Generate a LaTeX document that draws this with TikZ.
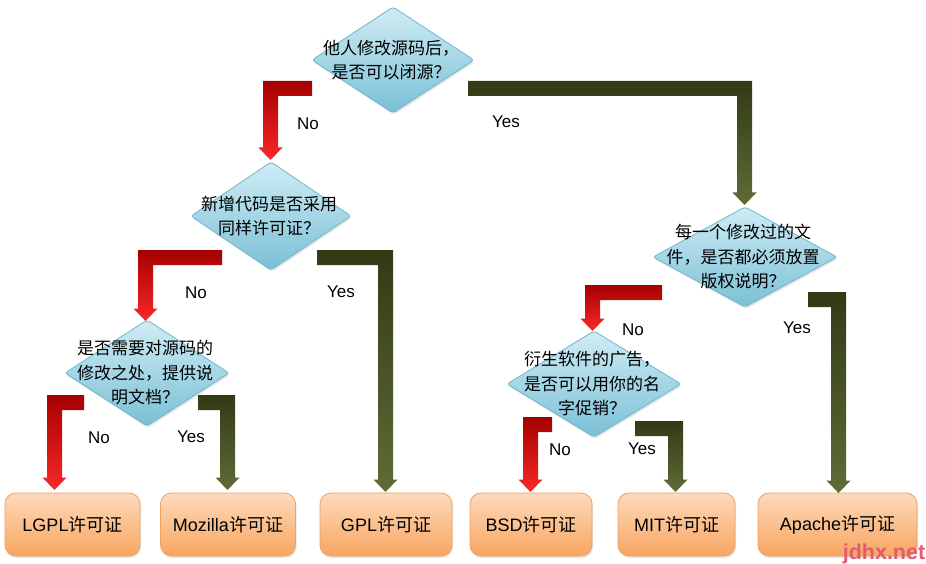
\documentclass[tikz,border=0pt]{standalone}
\usepackage{fontspec}
\setmainfont{Liberation Sans}
\newfontfamily\cjk{Noto Sans CJK SC}
\usetikzlibrary{shadows}
\definecolor{diaB}{RGB}{110,182,208}
\definecolor{diaT}{RGB}{208,236,244}
\definecolor{diaD}{RGB}{122,192,214}
\definecolor{boxB}{RGB}{240,160,95}
\definecolor{boxT}{RGB}{253,218,190}
\definecolor{boxD}{RGB}{248,165,95}
\definecolor{redT}{RGB}{165,0,0}
\definecolor{redD}{RGB}{250,40,40}
\definecolor{olT}{RGB}{50,58,22}
\definecolor{olD}{RGB}{95,108,55}
\definecolor{wm}{RGB}{225,92,112}
\newcommand\mydiam[6]{%
  \path[dia] (#2,#3-#5) -- (#2+#4,#3) -- (#2,#3+#5) -- (#2-#4,#3) -- cycle;
  \node[q] (#1) at (#2-2,#3) {#6};}
\newcommand\noarrow[4]{%
  \path[noarr] (#1,#2) -- (#3,#2) -- (#3,#4-12.5) -- (#3-4.5,#4-12.5) -- (#3+7.5,#4)
    -- (#3+19.5,#4-12.5) -- (#3+15,#4-12.5) -- (#3+15,#2+15) -- (#1,#2+15) -- cycle;}
\newcommand\yesarrow[4]{%
  \path[yesarr] (#1,#2) -- (#3,#2) -- (#3,#4-12.5) -- (#3+4.5,#4-12.5) -- (#3-7.5,#4)
    -- (#3-19.5,#4-12.5) -- (#3-15,#4-12.5) -- (#3-15,#2+15) -- (#1,#2+15) -- cycle;}
\begin{document}
\begin{tikzpicture}[x=1pt,y=-1pt,
  dia/.style={draw=diaB, line width=0.8pt, rounded corners=3pt, top color=diaT, bottom color=diaD,
    drop shadow={opacity=0.2, shadow xshift=1pt, shadow yshift=-2pt}},
  q/.style={font=\cjk\fontsize{17}{24.5}\selectfont, align=center, inner sep=0pt},
  lic/.style={draw=boxB, line width=0.8pt, rounded corners=11pt, top color=boxT, bottom color=boxD,
    minimum height=63pt, inner sep=0pt, font=\fontsize{18}{20}\selectfont,
    drop shadow={opacity=0.2, shadow xshift=1pt, shadow yshift=-2pt}},
  lab/.style={font=\fontsize{17}{20}\selectfont, inner sep=0pt},
  noarr/.style={top color=redT, bottom color=redD},
  yesarr/.style={top color=olT, bottom color=olD}]
\useasboundingbox (0,0) rectangle (926,564);
% decisions
\mydiam{d1}{393}{60}{81}{53}{他人修改源码后，\\是否可以闭源？}
\mydiam{d2}{271}{216}{80}{54}{新增代码是否采用\\同样许可证？}
\mydiam{d3}{147}{373}{82}{53}{是否需要对源码的\\修改之处，提供说\\明文档？}
\mydiam{d4}{745}{257}{92}{50}{每一个修改过的文\\件，是否都必须放置\\版权说明？}
\mydiam{d5}{594}{384}{87}{53}{衍生软件的广告，\\是否可以用你的名\\字促销？}
% licences
\node[lic, minimum width=135pt] (lgpl) at (72.5,524.5) {LGPL{\cjk 许可证}};
\node[lic, minimum width=135pt] (moz) at (228,524.5) {Mozilla{\cjk 许可证}};
\node[lic, minimum width=132pt] (gpl) at (386,524.5) {GPL{\cjk 许可证}};
\node[lic, minimum width=122pt] (bsd) at (531,524.5) {BSD{\cjk 许可证}};
\node[lic, minimum width=117pt] (mit) at (676.5,524.5) {MIT{\cjk 许可证}};
\node[lic, minimum width=159pt] (apache) at (837.5,524.5) {Apache{\cjk 许可证}};
% arrows
\noarrow{312}{81}{263}{160}
\yesarrow{468}{81}{752}{205}
\noarrow{222}{250}{138}{321}
\yesarrow{317}{250}{393}{492}
\noarrow{84}{395}{47}{490}
\yesarrow{198}{395}{235}{490}
\noarrow{662}{285}{585}{331}
\yesarrow{808}{292}{846}{493}
\noarrow{552}{417}{523}{492}
\yesarrow{635}{421}{683}{492}
% labels
\node[lab] (n1) at (308,124) {No};
\node[lab] (y1) at (506,122) {Yes};
\node[lab] (n2) at (196,293) {No};
\node[lab] (y2) at (341,292) {Yes};
\node[lab] (n3) at (99,438) {No};
\node[lab] (y3) at (191,437) {Yes};
\node[lab] (n4) at (633,330) {No};
\node[lab] (y4) at (797,328) {Yes};
\node[lab] (n5) at (560,450) {No};
\node[lab] (y5) at (642,449) {Yes};
% watermark
\node[text=wm, font=\bfseries\fontsize{21.5}{22}\selectfont, anchor=base, inner sep=0pt] (wmk) at (884,559) {jdhx.net};
\end{tikzpicture}
\end{document}
